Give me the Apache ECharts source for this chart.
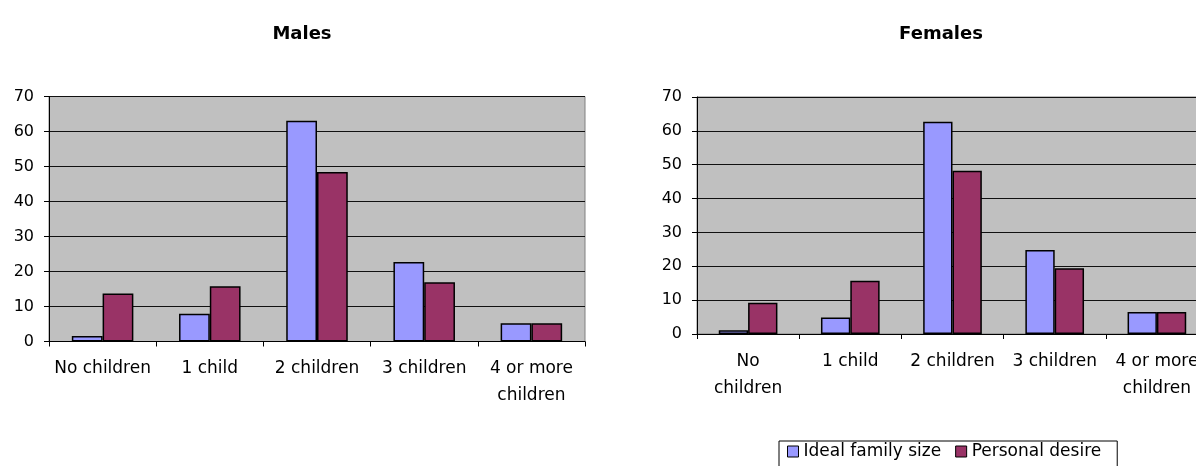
<!DOCTYPE html>
<html>
<head>
<meta charset="utf-8">
<title>Family size: Males and Females</title>
<script src="https://cdn.jsdelivr.net/npm/echarts@6/dist/echarts.min.js"></script>
<style>
  html, body { margin: 0; padding: 0; background: #ffffff; overflow: hidden; }
  /* the Females plot runs slightly past the right edge of the window */
  #chart { width: 1224px; height: 466px; }
</style>
</head>
<body>
<div id="chart"></div>
<script>
// Survey categories and the two response series for each group
const categories = ['No children', '1 child', '2 children', '3 children', '4 or more children'];
const maleLabels = ['No children', '1 child', '2 children', '3 children', '4 or more\nchildren'];
const femaleLabels = ['No\nchildren', '1 child', '2 children', '3 children', '4 or more\nchildren'];
const seriesNames = ['Ideal family size', 'Personal desire'];

const maleIdeal = [1.6, 7.9, 63.1, 22.7, 5.2];
const malePersonal = [13.7, 15.8, 48.4, 16.9, 5.2];
const femaleIdeal = [1.1, 4.9, 62.7, 24.8, 6.5];
const femalePersonal = [9.2, 15.7, 48.2, 19.4, 6.5];

const yTicks = [0, 10, 20, 30, 40, 50, 60, 70];

const FONT = 'DejaVu Sans';
const colors = ['#9999ff', '#993366'];

function xAxisFor(gridIndex, labels) {
  return {
    type: 'category',
    gridIndex: gridIndex,
    data: categories,
    axisLine: { lineStyle: { color: '#000', width: 1 } },
    axisTick: { show: true, length: 5, lineStyle: { color: '#000' } },
    axisLabel: {
      color: '#000', fontFamily: FONT, fontSize: 17, margin: 14, lineHeight: 27,
      interval: 0,
      formatter: function (v, i) { return labels[i]; }
    },
    splitLine: { show: false }
  };
}

function yAxisFor(gridIndex) {
  return {
    type: 'value',
    gridIndex: gridIndex,
    min: yTicks[0],
    max: yTicks[yTicks.length - 1],
    interval: 10,
    axisLine: { show: true, lineStyle: { color: '#000', width: 1 } },
    axisTick: { show: true, length: 5, lineStyle: { color: '#000' } },
    axisLabel: { color: '#000', fontFamily: FONT, fontSize: 16, margin: 15 },
    splitLine: { show: true, lineStyle: { color: '#111', width: 1 } }
  };
}

function barSeries(name, data, idx) {
  return {
    name: name,
    type: 'bar',
    xAxisIndex: idx,
    yAxisIndex: idx,
    data: data,
    barGap: '0%',
    barCategoryGap: '42.6%',
    itemStyle: { color: colors[seriesNames.indexOf(name)], borderColor: '#000', borderWidth: 1.5 },
    emphasis: { disabled: true }
  };
}

const chart = echarts.init(document.getElementById('chart'), null, { renderer: 'canvas' });

chart.setOption({
  animation: false,
  backgroundColor: '#ffffff',
  title: [
    { text: 'Males', left: 297, top: 20, textAlign: 'center',
      textStyle: { fontFamily: FONT, fontSize: 18, fontWeight: 'bold', color: '#000' } },
    { text: 'Females', left: 936, top: 20, textAlign: 'center',
      textStyle: { fontFamily: FONT, fontSize: 18, fontWeight: 'bold', color: '#000' } }
  ],
  legend: {
    data: seriesNames,
    left: 779,
    top: 441,
    orient: 'horizontal',
    padding: [2, 16, 20, 8],
    itemGap: 14,
    itemWidth: 11,
    itemHeight: 11,
    icon: 'rect',
    borderColor: '#000',
    borderWidth: 1,
    backgroundColor: '#fff',
    itemStyle: { borderColor: '#000', borderWidth: 1 },
    textStyle: { fontFamily: FONT, fontSize: 17, color: '#000' }
  },
  grid: [
    { left: 49, width: 536, top: 96.5, height: 245, show: true,
      backgroundColor: '#c0c0c0', borderColor: '#808080', borderWidth: 1, containLabel: false },
    { left: 697, width: 511, top: 97, height: 237, show: true,
      backgroundColor: '#c0c0c0', borderColor: '#808080', borderWidth: 1, containLabel: false }
  ],
  xAxis: [xAxisFor(0, maleLabels), xAxisFor(1, femaleLabels)],
  yAxis: [yAxisFor(0), yAxisFor(1)],
  series: [
    barSeries(seriesNames[0], maleIdeal, 0),
    barSeries(seriesNames[1], malePersonal, 0),
    barSeries(seriesNames[0], femaleIdeal, 1),
    barSeries(seriesNames[1], femalePersonal, 1)
  ]
});
</script>
</body>
</html>
